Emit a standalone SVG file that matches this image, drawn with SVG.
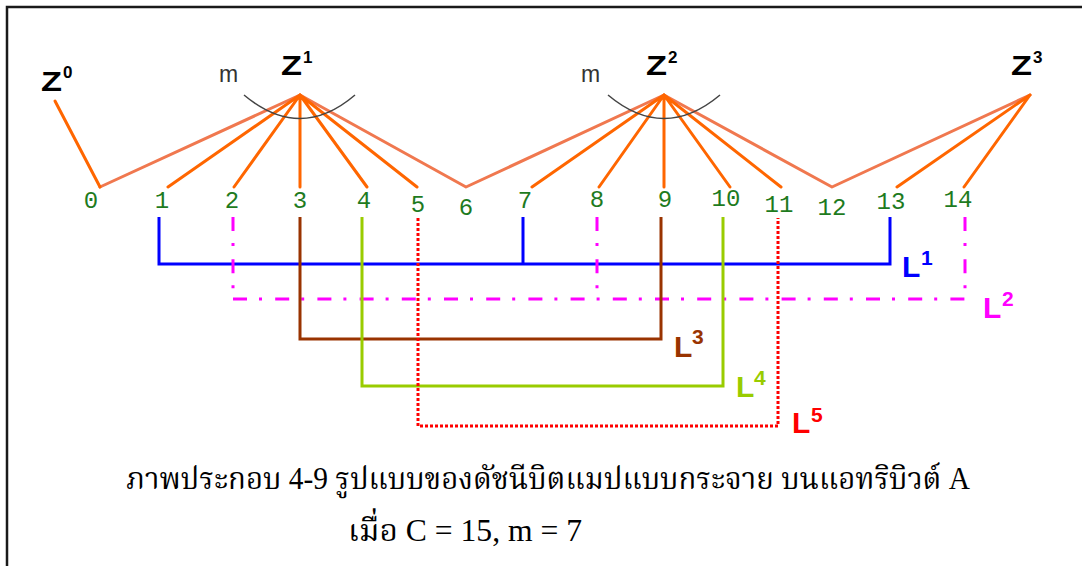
<svg xmlns="http://www.w3.org/2000/svg" width="1082" height="566" viewBox="0 0 1082 566">
<style>
.zl{font-family:"Liberation Sans",Arial,sans-serif;font-weight:bold;fill:#000}
.zs{font-family:"Liberation Sans",Arial,sans-serif;font-weight:bold;font-size:17px;fill:#000}
.m{font-family:"Liberation Sans",Arial,sans-serif;font-size:23px;fill:#333}
.num{font-family:"Liberation Mono","Courier New",monospace;font-size:24px;fill:#1e7b1e;text-anchor:middle}
.ll{font-family:"Liberation Sans",Arial,sans-serif;font-weight:bold;font-size:30px}
.ls{font-family:"Liberation Sans",Arial,sans-serif;font-weight:bold;font-size:21px}
.spoke{stroke:#ff6600;stroke-width:3;fill:none;stroke-linecap:round}
.zig{stroke:#f0784f;stroke-width:3;fill:none;stroke-linejoin:round;stroke-linecap:round}
.arc{stroke:#444;stroke-width:1.5;fill:none}
.l1{stroke:#0000ff;stroke-width:3;fill:none}
.l2{stroke:#ff00ff;stroke-width:3;fill:none;stroke-dasharray:14 12 3 13.2}
.l3{stroke:#993300;stroke-width:3;fill:none}
.l4{stroke:#99cc00;stroke-width:3;fill:none}
.l5{stroke:#ff0000;stroke-width:3;fill:none;stroke-dasharray:3 2}
.cap{font-family:"Liberation Serif","Noto Serif Thai","Noto Sans Thai",serif;font-size:31px;fill:#000}
</style>
<rect x="7" y="7" width="1090" height="570" fill="#fff" stroke="#1a1a1a" stroke-width="2.5"/>

<g id="connectors">
  <path class="zig" d="M100,187 L300,95 L466,187 L664,95 L832,187 L1030,95"/>
  <path class="spoke" d="M55,101 L100,187"/>
  <path class="spoke" d="M300,95 L168,187 M300,95 L234,187 M300,95 L300,187 M300,95 L367,187 M300,95 L417,187"/>
  <path class="spoke" d="M664,95 L532,187 M664,95 L599,187 M664,95 L664,187 M664,95 L730,187 M664,95 L781,187"/>
  <path class="spoke" d="M1030,95 L897,187 M1030,95 L964,187"/>
  <path class="arc" d="M244,95 Q300,142 355,95"/>
  <path class="arc" d="M608,95 Q664,142 720,95"/>
  <g id="L1-lines"><path class="l1" d="M159,217 L159,264 L890,264 L890,217 M523,217 L523,264"/></g>
  <g id="L2-lines">
    <path class="l2" d="M233,217 L233,299"/>
    <path class="l2" d="M597,217 L597,299"/>
    <path class="l2" d="M965,217 L965,299"/>
    <path class="l2" d="M233,299 L966,299"/>
  </g>
  <g id="L3-lines"><path class="l3" d="M300,217 L300,339 L661,339 L661,217"/></g>
  <g id="L4-lines"><path class="l4" d="M362,217 L362,386 L723,386 L723,217"/></g>
  <g id="L5-lines"><path class="l5" d="M418,218 L418,426 L778,426 L778,218"/></g>
</g>

<g id="Z0"><text class="zl" x="41" y="91" font-size="27" textLength="21" lengthAdjust="spacingAndGlyphs">Z</text><text class="zs" x="63" y="78">0</text></g>
<g id="Z1"><text class="zl" x="281" y="75" font-size="27" textLength="21" lengthAdjust="spacingAndGlyphs">Z</text><text class="zs" x="303" y="63">1</text></g>
<g id="Z2"><text class="zl" x="646" y="75" font-size="27" textLength="21" lengthAdjust="spacingAndGlyphs">Z</text><text class="zs" x="668" y="63">2</text></g>
<g id="Z3"><text class="zl" x="1011" y="75" font-size="27" textLength="21" lengthAdjust="spacingAndGlyphs">Z</text><text class="zs" x="1033" y="63">3</text></g>
<g id="m1"><text class="m" x="219" y="82">m</text></g>
<g id="m2"><text class="m" x="581" y="82">m</text></g>

<g id="n0"><text class="num" x="91" y="208">0</text></g>
<g id="n1"><text class="num" x="162" y="208">1</text></g>
<g id="n2"><text class="num" x="232" y="208">2</text></g>
<g id="n3"><text class="num" x="300" y="208">3</text></g>
<g id="n4"><text class="num" x="364" y="208">4</text></g>
<g id="n5"><text class="num" x="418" y="212">5</text></g>
<g id="n6"><text class="num" x="466" y="215">6</text></g>
<g id="n7"><text class="num" x="525" y="208">7</text></g>
<g id="n8"><text class="num" x="597" y="207">8</text></g>
<g id="n9"><text class="num" x="665" y="207">9</text></g>
<g id="n10"><text class="num" x="726" y="206">10</text></g>
<g id="n11"><text class="num" x="779" y="212">11</text></g>
<g id="n12"><text class="num" x="832" y="215">12</text></g>
<g id="n13"><text class="num" x="891" y="209">13</text></g>
<g id="n14"><text class="num" x="958" y="207">14</text></g>

<g id="L1"><text class="ll" x="902" y="277" fill="#0000ff">L</text><text class="ls" x="921" y="265" fill="#0000ff">1</text></g>
<g id="L2"><text class="ll" x="983" y="318" fill="#ff00ff">L</text><text class="ls" x="1002" y="306" fill="#ff00ff">2</text></g>
<g id="L3"><text class="ll" x="674" y="357" fill="#993300">L</text><text class="ls" x="692" y="344" fill="#993300">3</text></g>
<g id="L4"><text class="ll" x="736" y="397" fill="#99cc00">L</text><text class="ls" x="754" y="385" fill="#99cc00">4</text></g>
<g id="L5"><text class="ll" x="792" y="433" fill="#ff0000">L</text><text class="ls" x="811" y="422" fill="#ff0000">5</text></g>

<g id="caption">
  <text class="cap" x="126" y="489" textLength="844" lengthAdjust="spacingAndGlyphs">ภาพประกอบ 4-9 รูปแบบของดัชนีบิตแมปแบบกระจาย บนแอทริบิวต์ A</text>
  <text class="cap" x="348" y="541" textLength="234" lengthAdjust="spacingAndGlyphs">เมื่อ C = 15, m = 7</text>
</g>
</svg>
